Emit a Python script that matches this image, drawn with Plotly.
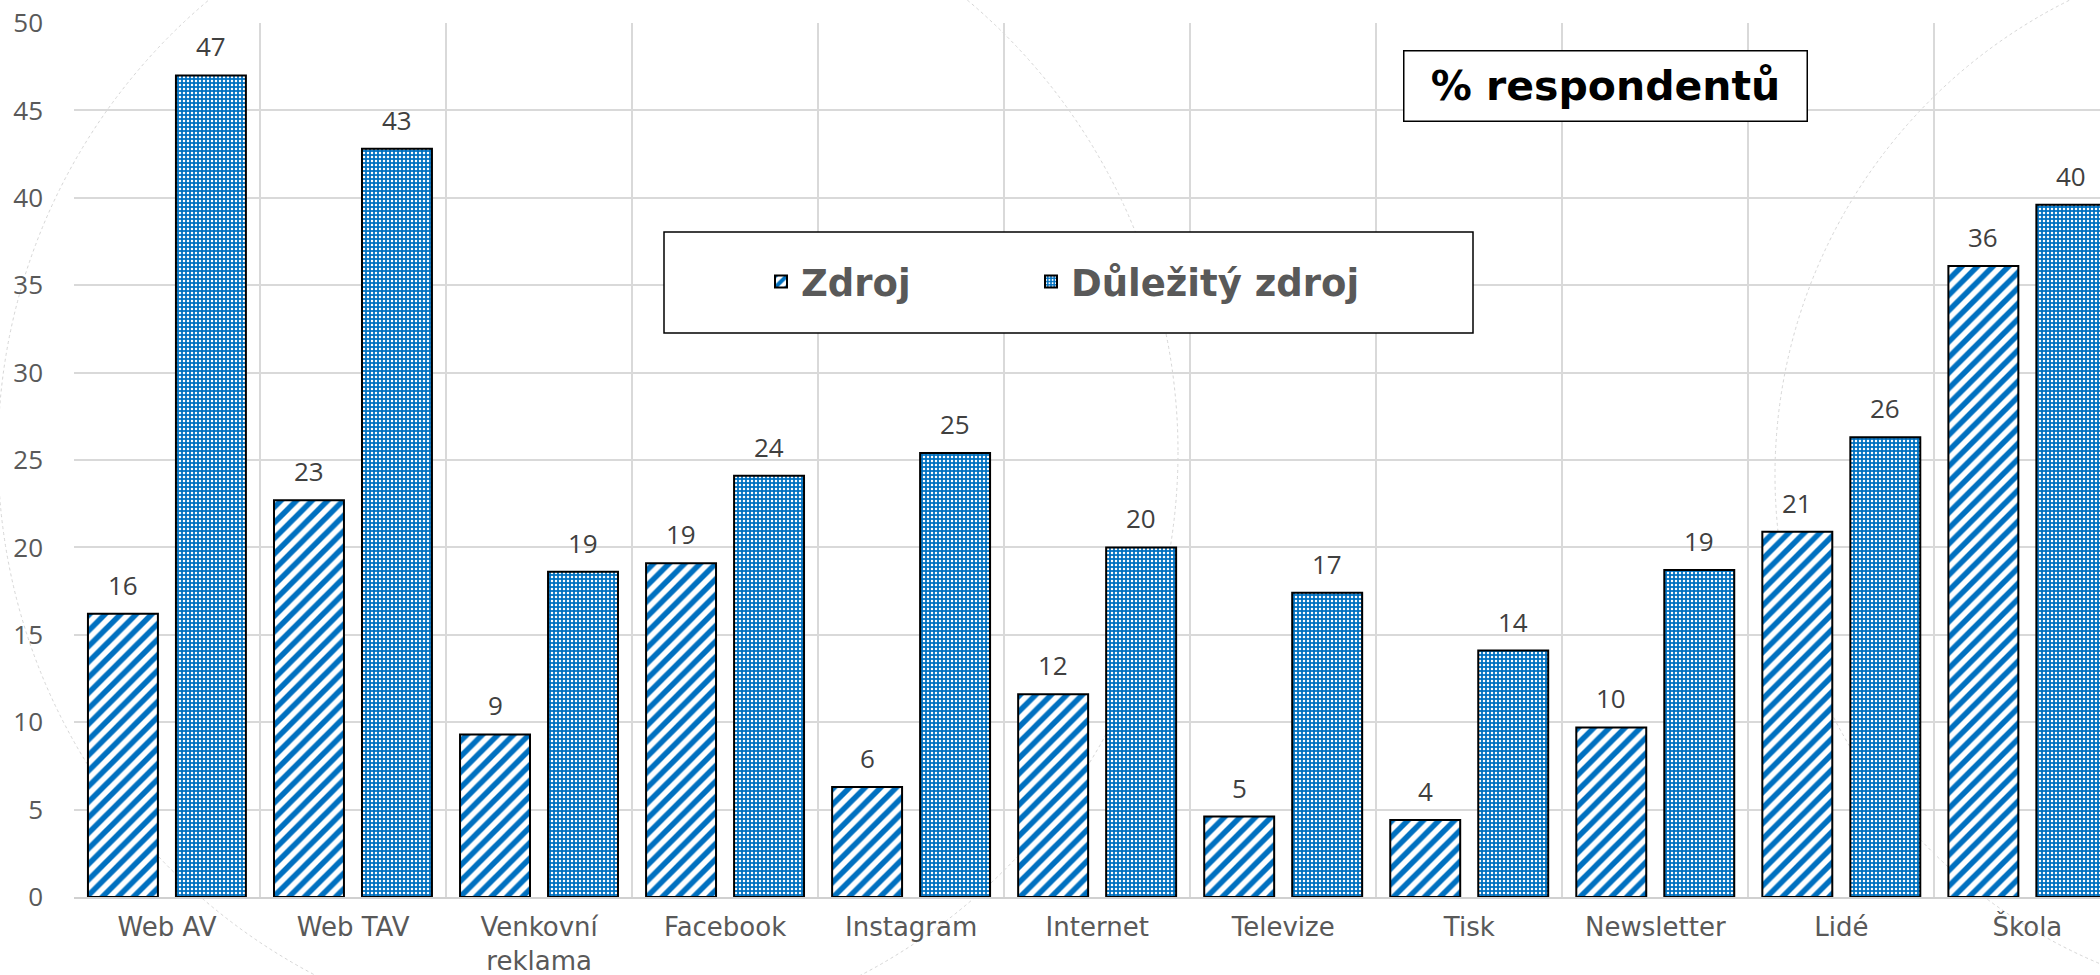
import plotly.graph_objects as go

categories = ["Web AV", "Web TAV", "Venkovní<br>reklama", "Facebook", "Instagram",
              "Internet", "Televize", "Tisk", "Newsletter", "Lidé", "Škola"]
zdroj = [16.2, 22.7, 9.3, 19.1, 6.3, 11.6, 4.6, 4.4, 9.7, 20.9, 36.1]
dulezity = [47.0, 42.8, 18.6, 24.1, 25.4, 20.0, 17.4, 14.1, 18.7, 26.3, 39.6]
series_names = ["Zdroj", "Důležitý zdroj"]
y_ticks = list(range(0, 51, 5))

BLUE = "#0070C0"
W, H = 2100, 975
ML, MR, MT, MB = 74, 0, 23, 78
pw, ph = W - ML - MR, H - MT - MB

BAR_W = 0.376
OFF = [-0.425, 0.048]


def px_x(px):
    return (px - ML) / pw


def px_y(py):
    return (H - MB - py) / ph


fig = go.Figure()
fig.add_trace(go.Bar(
    x=categories, y=zdroj, name=series_names[0], legend="legend",
    width=BAR_W, offset=OFF[0],
    marker=dict(color="white", line=dict(color="black", width=2),
                pattern=dict(shape="/", fgcolor=BLUE, bgcolor="white", size=11,
                             solidity=0.5, fgopacity=1, fillmode="replace")),
))
fig.add_trace(go.Bar(
    x=categories, y=dulezity, name=series_names[1], legend="legend2",
    width=BAR_W, offset=OFF[1],
    marker=dict(color=BLUE, line=dict(color="black", width=2),
                pattern=dict(shape=".", fgcolor="white", bgcolor=BLUE, size=4,
                             solidity=0.3, fgopacity=1, fillmode="replace")),
))

# data labels
for si, vals in enumerate([zdroj, dulezity]):
    for i, v in enumerate(vals):
        fig.add_annotation(
            x=i + OFF[si] + BAR_W / 2, y=v, xref="x", yref="y",
            text=f"{int(v + 0.5):d}", showarrow=False, yanchor="middle", yshift=29,
            font=dict(family="Open Sans", size=26, color="#404040"),
        )

# faint decorative background circles
for cx, cy, r in [(588, 452, 590), (2305, 475, 530)]:
    fig.add_shape(type="circle", xref="paper", yref="paper",
                  x0=px_x(cx - r), x1=px_x(cx + r), y0=px_y(cy + r), y1=px_y(cy - r),
                  line=dict(color="#d6d6d6", width=1, dash="dot"), layer="below")

# legend box
fig.add_shape(type="rect", xref="paper", yref="paper",
              x0=px_x(664), x1=px_x(1473), y0=px_y(333), y1=px_y(232),
              line=dict(color="black", width=1.5), fillcolor="white", layer="above")

# title box
fig.add_annotation(
    xref="paper", yref="paper", x=px_x(1605), y=px_y(85.5),
    text="% respondentů", showarrow=False, xanchor="center", yanchor="middle",
    font=dict(family="DejaVu Sans", size=41, color="black", weight="bold"),
    bordercolor="black", borderwidth=1.5, bgcolor="white",
    width=402, height=69, borderpad=0,
)

legend_font = dict(family="DejaVu Sans", size=37, color="#595959", weight="bold")
fig.update_layout(
    width=W, height=H,
    margin=dict(l=ML, r=MR, t=MT, b=MB, pad=0, autoexpand=False),
    paper_bgcolor="white", plot_bgcolor="rgba(0,0,0,0)",
    barmode="overlay",
    showlegend=True,
    legend=dict(
        orientation="h", x=px_x(761), y=px_y(282), xanchor="left", yanchor="middle",
        font=legend_font, bgcolor="rgba(0,0,0,0)", borderwidth=0, itemwidth=30,
    ),
    legend2=dict(
        orientation="h", x=px_x(1031), y=px_y(282), xanchor="left", yanchor="middle",
        font=legend_font, bgcolor="rgba(0,0,0,0)", borderwidth=0, itemwidth=30,
    ),
    xaxis=dict(
        type="category", range=[-0.5, 10.39], tickson="boundaries", automargin=False,
        showgrid=True, gridcolor="#d9d9d9", gridwidth=2,
        showline=True, linecolor="#d0d0d0", linewidth=2,
        ticks="", tickfont=dict(family="DejaVu Sans", size=26, color="#595959"),
        ticklabelstandoff=6,
    ),
    yaxis=dict(
        range=[0, 50], tickvals=y_ticks, showgrid=True, gridcolor="#d9d9d9", gridwidth=2,
        zeroline=False, showline=False, ticks="", automargin=False,
        tickfont=dict(family="Open Sans", size=26, color="#595959"),
        ticklabelstandoff=30,
    ),
)

fig.write_html(
    "out.html",
    config={"displayModeBar": False},
    post_script="document.body.style.margin='0px';document.body.style.overflow='hidden';",
)
